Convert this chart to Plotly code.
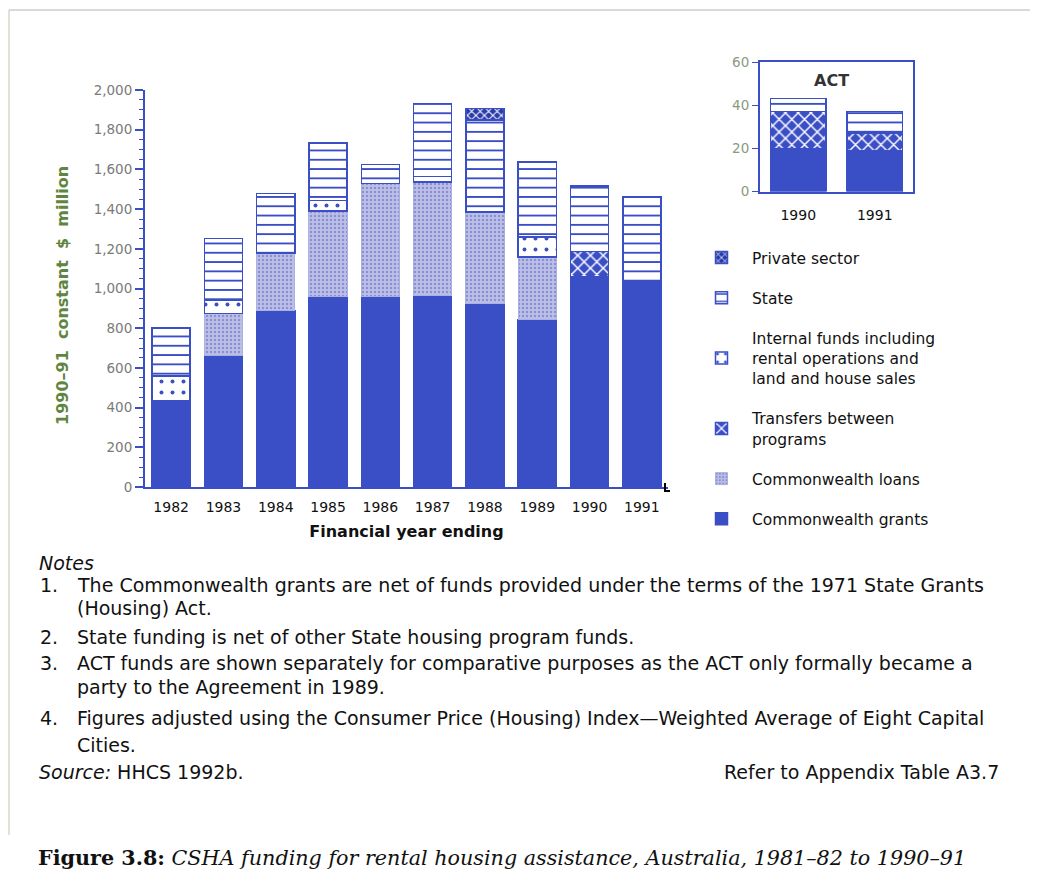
import plotly.graph_objects as go

W, H = 1038, 887

# ---------------- data ----------------
years = ["1982", "1983", "1984", "1985", "1986", "1987", "1988", "1989", "1990", "1991"]
grants = [435, 663, 890, 962, 962, 965, 923, 843, 1058, 1041]
loans = [0, 210, 290, 428, 566, 571, 462, 315, 0, 0]
transfers = [0, 0, 0, 0, 0, 0, 0, 0, 129, 0]
internal = [125, 70, 0, 54, 0, 29, 0, 101, 0, 0]
state = [240, 308, 298, 289, 97, 366, 465, 378, 329, 420]
private = [0, 0, 0, 0, 0, 0, 56, 0, 0, 0]

act_years = ["1990", "1991"]
act_grants = [20, 19]
act_transfers = [17, 8]
act_state = [6, 10]

y_ticks = [0, 200, 400, 600, 800, 1000, 1200, 1400, 1600, 1800, 2000]
act_ticks = [0, 20, 40, 60]

notes = [
    ("1.", "The Commonwealth grants are net of funds provided under the terms of the 1971 State Grants", 585),
    ("", "(Housing) Act.", 608),
    ("2.", "State funding is net of other State housing program funds.", 637),
    ("3.", "ACT funds are shown separately for comparative purposes as the ACT only formally became a", 663),
    ("", "party to the Agreement in 1989.", 687),
    ("4.", "Figures adjusted using the Consumer Price (Housing) Index\u2014Weighted Average of Eight Capital", 718),
    ("", "Cities.", 745),
]

# ---------------- style ----------------
BLUE = "#3a4ec6"
LIGHT = "#aab0e0"
FONT = "DejaVu Sans, Verdana, sans-serif"
SERIF = "DejaVu Serif, Georgia, serif"
OFF = 8  # page body margin of the html page


def px(x):
    return (x - OFF) / W


def py(y):
    return 1 - (y - OFF) / H


fig = go.Figure()

line = dict(color=BLUE, width=1.5)

# stacking order bottom -> top; legend rank top -> bottom
series = [
    ("Commonwealth grants", grants, 6, dict(color=BLUE, line=line)),
    ("Commonwealth loans", loans, 5, dict(color=LIGHT, line=dict(color=LIGHT, width=1),
                                          pattern=dict(shape=".", fgcolor="#8a91d2", bgcolor="#bcc0e8",
                                                       size=4, solidity=0.3, fillmode="replace"))),
    ("Transfers between<br>programs", transfers, 4, dict(color=BLUE, line=line,
                                                         pattern=dict(shape="x", fgcolor="white", bgcolor=BLUE,
                                                                      size=9, solidity=0.3, fillmode="replace"))),
    ("Internal funds including<br>rental operations and<br>land and house sales", internal, 3,
     dict(color="white", line=line,
          pattern=dict(shape=".", fgcolor=BLUE, bgcolor="white", size=11, solidity=0.1, fillmode="replace"))),
    ("State", state, 2, dict(color="white", line=line,
                             pattern=dict(shape="-", fgcolor=BLUE, bgcolor="white", size=9.3, solidity=0.2,
                                          fillmode="replace"))),
    ("Private sector", private, 1, dict(color=BLUE, line=line,
                                        pattern=dict(shape="x", fgcolor="white", bgcolor="#2a3aa8", size=6,
                                                     solidity=0.3, fillmode="replace"))),
]

for name, vals, rank, marker in series:
    fig.add_trace(go.Bar(x=years, y=vals, name=name, marker=marker, legendgroup=name,
                         legendrank=rank, xaxis="x", yaxis="y", hoverinfo="skip"))

act_series = [
    ("Commonwealth grants", act_grants, series[0][3]),
    ("Transfers between<br>programs", act_transfers, series[2][3]),
    ("State", act_state, series[4][3]),
]
for name, vals, marker in act_series:
    fig.add_trace(go.Bar(x=act_years, y=vals, name=name, marker=marker, legendgroup=name,
                         showlegend=False, xaxis="x2", yaxis="y2", hoverinfo="skip"))

fig.update_layout(
    width=W, height=H,
    margin=dict(l=0, r=0, t=0, b=0, autoexpand=False),
    paper_bgcolor="white", plot_bgcolor="white",
    barmode="stack", bargap=0.27,
    font=dict(family=FONT, color="black", size=14),
    showlegend=True,
    legend=dict(x=px(691), y=py(241), xanchor="left", yanchor="top",
                traceorder="grouped", tracegroupgap=17,
                font=dict(size=15.5, family=FONT, color="#111"),
                itemwidth=51, bgcolor="rgba(0,0,0,0)"),
    xaxis=dict(domain=[px(145), px(668)], type="category", range=[-0.5, 9.5], automargin=False,
               showline=True, linecolor=BLUE, linewidth=2, ticks="", showgrid=False,
               tickfont=dict(size=14, color="#111"), ticklabelstandoff=6,
               title=dict(text="<b>Financial year ending</b>", font=dict(size=16, color="#111"), standoff=12),
               anchor="y"),
    yaxis=dict(domain=[py(487), py(90)], range=[0, 2000], tickvals=y_ticks, tickformat=",",
               automargin=False,
               showline=True, linecolor=BLUE, linewidth=2, ticks="outside", ticklen=8,
               tickcolor=BLUE, tickwidth=1.5, showgrid=False, zeroline=False,
               tickfont=dict(size=13.5, color="#7a7a7a"),
               minor=dict(dtick=50, ticks="outside", ticklen=4, tickcolor=BLUE, tickwidth=1),
               anchor="x"),
    xaxis2=dict(domain=[px(760), px(913)], type="category", range=[-0.5, 1.5], automargin=False,
                showline=True, linecolor=BLUE, linewidth=2, mirror=True, ticks="", showgrid=False,
                tickfont=dict(size=14, color="#111"), ticklabelstandoff=10, anchor="y2"),
    yaxis2=dict(domain=[py(191.5), py(62)], range=[0, 60], tickvals=act_ticks, automargin=False,
                showline=True, linecolor=BLUE, linewidth=2, mirror=True, ticks="outside", ticklen=6,
                tickcolor=BLUE, showgrid=False, zeroline=False,
                tickfont=dict(size=13.5, color="#8a9a80"), anchor="x2"),
)


def note(x, y, text, size=19, anchor="left", fam=FONT, color="#111", angle=0):
    return dict(x=px(x), y=py(y), xref="paper", yref="paper", showarrow=False,
                xanchor=anchor, yanchor="middle", text=text, textangle=angle,
                font=dict(size=size, color=color, family=fam))


ann = []
ann.append(note(62, 296, "<b>1990\u201391  constant  $  million</b>", size=16, anchor="center",
                color="#5f8540", angle=-90))
ann.append(note(831, 81, "<b>ACT</b>", size=16, anchor="center", color="#333"))
ann.append(note(37, 563, "<i>Notes</i>"))
for num, txt, yy in notes:
    if num:
        ann.append(note(38, yy, num))
    ann.append(note(75, yy, txt))
ann.append(note(37, 772, "<i>Source:</i> HHCS 1992b."))
ann.append(note(1001, 772, "Refer to Appendix Table A3.7", anchor="right"))
ann.append(note(36, 858,
                "<b>Figure 3.8:</b> <i>CSHA funding for rental housing assistance, Australia, 1981\u201382 to 1990\u201391</i>",
                size=20.7, fam=SERIF))
fig.update_layout(annotations=ann)

shapes = [
    dict(type="line", xref="paper", yref="paper", x0=px(9), x1=px(1032), y0=py(10), y1=py(10),
         line=dict(color="#b5b5b5", width=1.2)),
    dict(type="line", xref="paper", yref="paper", x0=px(9), x1=px(9), y0=py(10), y1=py(835),
         line=dict(color="#c5d0c0", width=1.2)),
    dict(type="path", xref="paper", yref="paper",
         path=f"M {px(665)} {py(483)} L {px(665)} {py(491)} L {px(670)} {py(491)}",
         line=dict(color="black", width=2)),
]
fig.update_layout(shapes=shapes)

fig.write_html("out.html")
